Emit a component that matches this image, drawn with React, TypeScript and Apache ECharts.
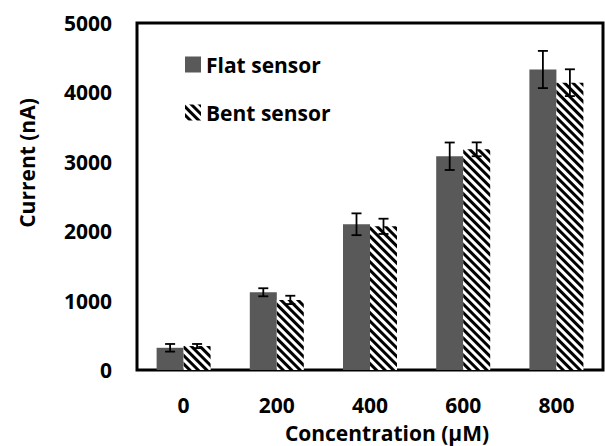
import React, { useEffect, useRef } from "react";
import * as echarts from "echarts";

const categories = ["0", "200", "400", "600", "800"];
const flatValues = [320, 1120, 2100, 3080, 4330];
const flatErrors = [55, 58, 157, 198, 268];
const bentValues = [345, 1010, 2070, 3180, 4140];
const bentErrors = [30, 60, 110, 100, 193];
const seriesNames = ["Flat sensor", "Bent sensor"];
const yAxisTitle = "Current (nA)";
const xAxisTitle = "Concentration (\u00b5M)";

const FONT = '"Open Sans", "DejaVu Sans", sans-serif';
const BAR_W = 27;

function errorSeries(name: string, values: number[], errors: number[], side: number) {
  return {
    name,
    type: "custom",
    z: 5,
    silent: true,
    data: values.map((v, i) => [i, v, errors[i]]),
    renderItem: (params: any, api: any) => {
      const idx = api.value(0);
      const v = api.value(1);
      const e = api.value(2);
      const top = api.coord([idx, v + e]);
      const bot = api.coord([idx, v - e]);
      const x = top[0] + (side * BAR_W) / 2;
      const cap = 5;
      const st = { stroke: "#000", lineWidth: 1.8 };
      return {
        type: "group",
        children: [
          { type: "line", shape: { x1: x, y1: top[1], x2: x, y2: bot[1] }, style: st },
          { type: "line", shape: { x1: x - cap, y1: top[1], x2: x + cap, y2: top[1] }, style: st },
          { type: "line", shape: { x1: x - cap, y1: bot[1], x2: x + cap, y2: bot[1] }, style: st },
        ],
      };
    },
  };
}

export default function App() {
  const ref = useRef<HTMLDivElement>(null);
  useEffect(() => {
    if (!ref.current) return;
    const chart = echarts.init(ref.current, undefined, { renderer: "svg" });
    const hatch = {
      symbol: "rect",
      symbolSize: 1,
      symbolKeepAspect: false,
      dashArrayX: [1, 0],
      dashArrayY: [2.2, 2.2],
      rotation: Math.PI / 4,
      color: "#000",
      backgroundColor: "#fff",
    };
    chart.setOption({
      animation: false,
      backgroundColor: "#fff",
      textStyle: { fontFamily: FONT },
      grid: {
        left: 137,
        right: 2,
        top: 23,
        bottom: 76,
        show: true,
        borderColor: "#000",
        borderWidth: 3,
        backgroundColor: "transparent",
      },
      legend: {
        data: seriesNames.map((n) => ({ name: n, icon: "rect" })),
        orient: "vertical",
        left: 180,
        top: 49,
        itemWidth: 16,
        itemHeight: 16,
        itemGap: 27,
        selectedMode: false,
        textStyle: {
          fontFamily: FONT,
          fontWeight: "bold",
          fontSize: 21,
          color: "#000",
          lineHeight: 16,
        },
      },
      xAxis: {
        type: "category",
        data: categories,
        axisLine: { show: false },
        axisTick: { show: false },
        splitLine: { show: false },
        axisLabel: {
          margin: 24,
          fontFamily: FONT,
          fontWeight: "bold",
          fontSize: 21,
          color: "#000",
        },
      },
      yAxis: {
        type: "value",
        min: 0,
        max: 5000,
        interval: 1000,
        axisLine: { show: false },
        axisTick: { show: false },
        splitLine: { show: false },
        axisLabel: {
          margin: 25,
          fontFamily: FONT,
          fontWeight: "bold",
          fontSize: 21,
          color: "#000",
          formatter: (v: number) => String(v),
        },
      },
      graphic: [
        {
          type: "text",
          x: 27,
          y: 163,
          rotation: Math.PI / 2,
          style: {
            text: yAxisTitle,
            fontFamily: FONT,
            fontWeight: "bold",
            fontSize: 21,
            fill: "#000",
            align: "center",
            verticalAlign: "middle",
          },
        },
        {
          type: "text",
          x: 387,
          y: 433,
          style: {
            text: xAxisTitle,
            fontFamily: FONT,
            fontWeight: "bold",
            fontSize: 21,
            fill: "#000",
            align: "center",
            verticalAlign: "middle",
          },
        },
      ],
      series: [
        {
          name: seriesNames[0],
          type: "bar",
          data: flatValues,
          barWidth: BAR_W,
          barGap: "0%",
          itemStyle: { color: "#595959" },
        },
        {
          name: seriesNames[1],
          type: "bar",
          data: bentValues,
          barWidth: BAR_W,
          barGap: "0%",
          itemStyle: { color: "#fff", decal: hatch },
        },
        errorSeries("Flat error", flatValues, flatErrors, -1),
        errorSeries("Bent error", bentValues, bentErrors, 1),
      ],
    });
    return () => chart.dispose();
  }, []);
  return (
    <div
      ref={ref}
      style={{ position: "absolute", left: 0, top: 0, width: 605, height: 446 }}
    />
  );
}
